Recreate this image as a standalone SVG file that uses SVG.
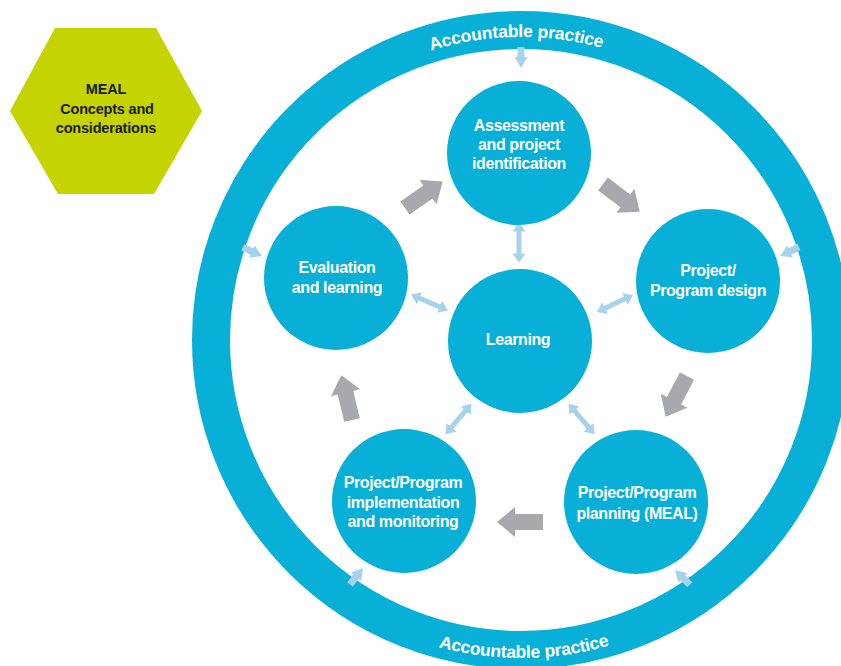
<svg xmlns="http://www.w3.org/2000/svg" width="841" height="666" viewBox="0 0 841 666">
  <style>
    .node { fill: #08afd7; }
    .lbl { font-family: "Liberation Sans", Arial, sans-serif; font-weight: bold; font-size: 16px; fill: #ffffff; text-anchor: middle; letter-spacing: -0.4px; }
    .hex { fill: #c5d400; }
    .hex-lbl { font-family: "Liberation Sans", Arial, sans-serif; font-weight: bold; font-size: 14.5px; fill: #1a1a1a; text-anchor: middle; letter-spacing: -0.2px; }
    .ring { fill: none; stroke: #08afd7; stroke-width: 38; }
    .ring-lbl { font-family: "Liberation Sans", Arial, sans-serif; font-weight: bold; font-size: 17.5px; fill: #ffffff; text-anchor: middle; letter-spacing: -0.2px; }
    .flow { fill: #a7a9ac; }
    .link { fill: #a6d2ea; }
  </style>
  <defs>
    <!-- wide grey cycle arrow, tail at origin, pointing +x -->
    <path id="block" d="M0,-8 L28,-8 L28,-15 L46,0 L28,15 L28,8 L0,8 Z"/>
    <!-- thin two-headed link, centred on origin -->
    <path id="dbl" d="M-20,0 L-11,-6.5 L-11,-2.5 L11,-2.5 L11,-6.5 L20,0 L11,6.5 L11,2.5 L-11,2.5 L-11,6.5 Z"/>
    <!-- thin one-headed link, tip at origin -->
    <path id="sgl" d="M-21,-3.5 L-11,-3.5 L-11,-6.5 L0,0 L-11,6.5 L-11,3.5 L-21,3.5 Z"/>
    <!-- text paths inside the outer ring -->
    <path id="arc-top" d="M218,340 A303,303 0 0 1 824,340"/>
    <path id="arc-bot" d="M203,340 A318,318 0 0 0 839,340"/>
  </defs>

  <!-- MEAL hexagon -->
  <g id="meal">
    <polygon class="hex" points="10,111 55,28 156,28 202,111 154,194 58,194"/>
    <text class="hex-lbl" x="106" y="94">MEAL</text>
    <text class="hex-lbl" x="107" y="114">Concepts and</text>
    <text class="hex-lbl" x="106" y="133">considerations</text>
  </g>

  <!-- outer ring -->
  <g id="accountable-practice">
    <circle class="ring" cx="521" cy="340" r="310"/>
    <text class="ring-lbl"><textPath href="#arc-top" startOffset="49.5%">Accountable practice</textPath></text>
    <text class="ring-lbl"><textPath href="#arc-bot" startOffset="50.3%">Accountable practice</textPath></text>
  </g>

  <!-- connectors -->
  <g id="connectors">
    <!-- project cycle -->
    <use href="#block" class="flow" transform="translate(405,208) rotate(-35)"/>
    <use href="#block" class="flow" transform="translate(603,184) rotate(37)"/>
    <use href="#block" class="flow" transform="translate(687,376) rotate(117.6)"/>
    <use href="#block" class="flow" transform="translate(543,522) rotate(180)"/>
    <use href="#block" class="flow" transform="translate(352,420) rotate(-103.4)"/>
    <!-- learning links -->
    <use href="#dbl" class="link" transform="translate(519,242.5) rotate(90)"/>
    <use href="#dbl" class="link" transform="translate(429.5,302.5) rotate(23.2)"/>
    <use href="#dbl" class="link" transform="translate(615,303.5) rotate(-25.3)"/>
    <use href="#dbl" class="link" transform="translate(458.5,419) rotate(130.2)"/>
    <use href="#dbl" class="link" transform="translate(581.5,419) rotate(49.8)"/>
    <!-- accountability links from the ring -->
    <use href="#sgl" class="link" transform="translate(521,68) rotate(90)"/>
    <use href="#sgl" class="link" transform="translate(262,256) rotate(24.2)"/>
    <use href="#sgl" class="link" transform="translate(780,256) rotate(154.7)"/>
    <use href="#sgl" class="link" transform="translate(363,568) rotate(-51.8)"/>
    <use href="#sgl" class="link" transform="translate(675,570) rotate(-135)"/>
  </g>

  <g id="assessment">
    <circle class="node" cx="519" cy="153" r="72"/>
    <text class="lbl" x="519" y="131">Assessment</text>
    <text class="lbl" x="519" y="150">and project</text>
    <text class="lbl" x="519" y="169">identification</text>
  </g>

  <g id="design">
    <circle class="node" cx="708" cy="281" r="72"/>
    <text class="lbl" x="708" y="276">Project/</text>
    <text class="lbl" x="708" y="296">Program design</text>
  </g>

  <g id="planning">
    <circle class="node" cx="636" cy="502" r="72"/>
    <text class="lbl" x="637" y="498">Project/Program</text>
    <text class="lbl" x="637" y="519">planning (MEAL)</text>
  </g>

  <g id="implementation">
    <circle class="node" cx="404" cy="501" r="72"/>
    <text class="lbl" x="403" y="488">Project/Program</text>
    <text class="lbl" x="403" y="508">implementation</text>
    <text class="lbl" x="403" y="527">and monitoring</text>
  </g>

  <g id="evaluation">
    <circle class="node" cx="336" cy="278" r="72"/>
    <text class="lbl" x="337" y="273">Evaluation</text>
    <text class="lbl" x="337" y="293">and learning</text>
  </g>

  <g id="learning">
    <circle class="node" cx="520" cy="341" r="72"/>
    <text class="lbl" x="518" y="345">Learning</text>
  </g>
</svg>
